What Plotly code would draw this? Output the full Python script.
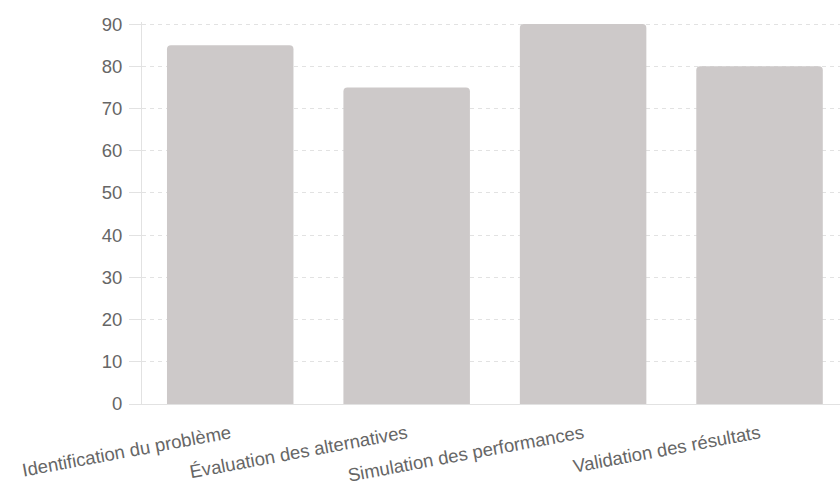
import plotly.graph_objects as go

# Étapes du processus et scores associés
categories = [
    "Identification du problème",
    "Évaluation des alternatives",
    "Simulation des performances",
    "Validation des résultats",
]
scores = [85, 75, 90, 80]
y_ticks = [0, 10, 20, 30, 40, 50, 60, 70, 80, 90]

BAR_COLOR = "#cdc9c9"
GRID_COLOR = "#e2e2e2"
TEXT_COLOR = "#666666"
FONT = "Liberation Sans, Arial, sans-serif"
FONT_SIZE = 18.5

fig = go.Figure(
    go.Bar(
        x=categories,
        y=scores,
        marker=dict(color=BAR_COLOR, line=dict(width=0)),
        hoverinfo="x+y",
    )
)

fig.update_layout(
    width=840,
    height=483,
    margin=dict(l=142, r=0, t=22, b=79),
    paper_bgcolor="white",
    plot_bgcolor="white",
    bargap=0.283,
    barcornerradius=4,
    showlegend=False,
    font=dict(family=FONT, size=FONT_SIZE, color=TEXT_COLOR),
)

fig.update_xaxes(
    range=[-0.5, 3.456],
    automargin=False,
    showline=True,
    linecolor=GRID_COLOR,
    linewidth=1,
    showgrid=False,
    ticks="",
    tickangle=-10.5,
    ticklabelstandoff=11,
    tickfont=dict(family=FONT, size=FONT_SIZE, color=TEXT_COLOR),
)

# headroom above 90 keeps the top grid line inside the plot area
fig.update_yaxes(
    range=[0, 90.5],
    automargin=False,
    tickvals=y_ticks,
    showline=True,
    linecolor=GRID_COLOR,
    linewidth=1,
    showgrid=True,
    gridcolor=GRID_COLOR,
    griddash="4px,4px",
    gridwidth=1,
    zeroline=False,
    ticks="outside",
    ticklen=12,
    tickcolor=GRID_COLOR,
    ticklabelstandoff=3,
    tickfont=dict(family=FONT, size=FONT_SIZE, color=TEXT_COLOR),
)

fig.write_html("out.html")
